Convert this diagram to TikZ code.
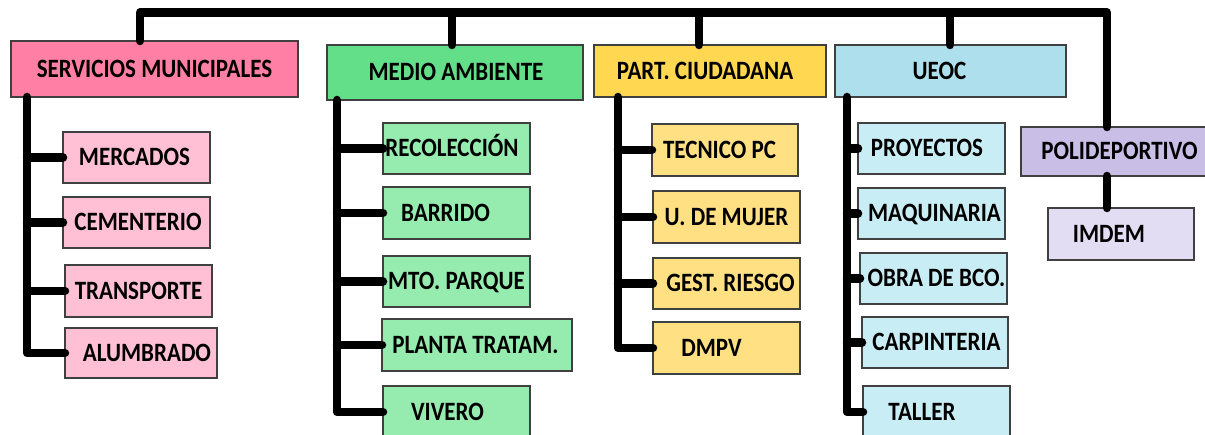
\documentclass[tikz,border=0pt]{standalone}
\usepackage{fontspec}
\usepackage{graphicx}
\setmainfont{Carlito}
\usetikzlibrary{fit}
\definecolor{smH}{HTML}{FF80A4}
\definecolor{smC}{HTML}{FFC0D6}
\definecolor{maH}{HTML}{63DF8A}
\definecolor{maC}{HTML}{96EBAE}
\definecolor{pcH}{HTML}{FFD750}
\definecolor{pcC}{HTML}{FFE184}
\definecolor{ueH}{HTML}{ADE0EC}
\definecolor{ueC}{HTML}{C9EDF4}
\definecolor{poH}{HTML}{C8BEE6}
\definecolor{poC}{HTML}{E3DDF3}
\tikzset{
  boxst/.style={draw=black!75, line width=1.3pt, inner sep=0pt, outer sep=0pt},
  lbl/.style={font=\fontsize{23}{26}\selectfont\bfseries, inner sep=0pt, text height=17pt, text depth=0pt},
  conn/.style={line width=8.5pt, line cap=round, line join=round},
}
\newcommand\ubox[8]{%
  \node[boxst, fill=#6, fit={(#2,#3) (#4,#5)}] (#1) {};
  \node[lbl] (#1-t) at ([xshift=#7pt]#1.center) {\scalebox{1}[1.15]{#8}};}
\begin{document}
\begin{tikzpicture}[x=1pt,y=-1pt]
\useasboundingbox (0,0) rectangle (1205,435);
% headers
\ubox{sm}{11}{41}{298}{97}{smH}{0}{SERVICIOS MUNICIPALES}
\ubox{ma}{327}{45}{583}{100}{maH}{1}{MEDIO AMBIENTE}
\ubox{pc}{594}{45}{826}{97}{pcH}{-5}{PART. CIUDADANA}
\ubox{ueoc}{835}{45}{1066}{97}{ueH}{-11}{UEOC}
\ubox{poli}{1021}{127}{1210}{176}{poH}{4}{POLIDEPORTIVO}
% servicios municipales
\ubox{merc}{63}{132}{210}{183}{smC}{-2}{MERCADOS}
\ubox{cem}{63}{197}{210}{248}{smC}{1.5}{CEMENTERIO}
\ubox{trans}{65}{265}{212}{317}{smC}{0}{TRANSPORTE}
\ubox{alu}{65}{328}{217}{378}{smC}{6}{ALUMBRADO}
% medio ambiente
\ubox{rec}{383}{123}{530}{174}{maC}{-4.5}{RECOLECCIÓN}
\ubox{barr}{383}{187}{530}{239}{maC}{-11}{BARRIDO}
\ubox{mto}{383}{256}{530}{307}{maC}{0}{MTO. PARQUE}
\ubox{pla}{382}{319}{572}{371}{maC}{-1.5}{PLANTA TRATAM.}
\ubox{viv}{383}{386}{530}{438}{maC}{-9}{VIVERO}
% participacion ciudadana
\ubox{tec}{652}{124}{798}{176}{pcC}{-5.5}{TECNICO PC}
\ubox{muj}{653}{191}{800}{243}{pcC}{0}{U. DE MUJER}
\ubox{ges}{653}{258}{800}{309}{pcC}{4}{GEST. RIESGO}
\ubox{dmpv}{653}{322}{800}{374}{pcC}{-15}{DMPV}
% ueoc
\ubox{pro}{858}{123}{1005}{174}{ueC}{-4.5}{PROYECTOS}
\ubox{maq}{858}{188}{1005}{239}{ueC}{3}{MAQUINARIA}
\ubox{obr}{860}{253}{1007}{304}{ueC}{3}{OBRA DE BCO.}
\ubox{car}{862}{317}{1008}{368}{ueC}{1.5}{CARPINTERIA}
\ubox{tal}{863}{386}{1010}{438}{ueC}{-14.5}{TALLER}
% polideportivo
\ubox{imd}{1048}{208}{1194}{260}{poC}{-12}{IMDEM}
% top bar
\coordinate (topbar) at (0,12.5);
\draw[conn] ([xshift=-14.5pt]sm.north) -- ([xshift=-14.5pt]sm.north |- topbar) -| ([xshift=-8.5pt]poli.north);
\foreach \n/\d in {ma/-3, pc/-11, ueoc/-0.5}
  \draw[conn] ([xshift=\d pt]\n.north) -- ([xshift=\d pt]\n.north |- topbar);
% columns
\coordinate (smc) at ([xshift=-127.5pt]sm.south);
\draw[conn] (smc) |- (alu.west);
\foreach \c in {merc, cem, trans} \draw[conn] (\c.west) -- (\c.west -| smc);
\coordinate (mac) at ([xshift=-118pt]ma.south);
\draw[conn] (mac) |- (viv.west);
\foreach \c in {rec, barr, mto, pla} \draw[conn] (\c.west) -- (\c.west -| mac);
\coordinate (pcc) at ([xshift=-92pt]pc.south);
\draw[conn] (pcc) |- (dmpv.west);
\foreach \c in {tec, muj, ges} \draw[conn] (\c.west) -- (\c.west -| pcc);
\coordinate (uec) at ([xshift=-103.5pt]ueoc.south);
\draw[conn] (uec) |- (tal.west);
\foreach \c in {pro, maq, obr, car} \draw[conn] (\c.west) -- (\c.west -| uec);
\draw[conn] ([xshift=-8.5pt]poli.south) -- ([xshift=-8.5pt]poli.south |- imd.north);
\end{tikzpicture}
\end{document}
